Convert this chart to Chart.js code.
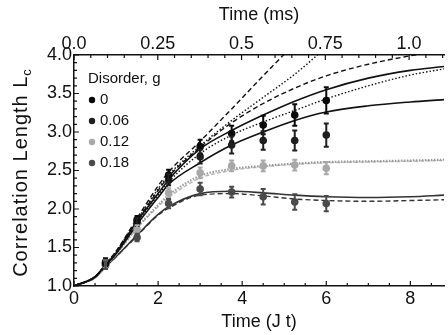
<!DOCTYPE html>
<html><head><meta charset="utf-8">
<script src="https://cdn.jsdelivr.net/npm/chart.js@4.4.1/dist/chart.umd.min.js"></script>
<style>html,body{margin:0;padding:0;background:#fff;}canvas{display:block;}</style>
</head><body>
<canvas id="c" width="448" height="335"></canvas>
<script>
// ---------- data ----------
const T_EXP = [0.75, 1.5, 2.25, 3.0, 3.75, 4.5, 5.25, 6.0];
const G0     = [1.31, 1.86, 2.44, 2.81, 2.98, 3.09, 3.22, 3.41];
const G0_ERR = [0.05, 0.05, 0.07, 0.09, 0.10, 0.12, 0.14, 0.17];
const G006     = [1.29, 1.83, 2.38, 2.68, 2.83, 2.89, 2.89, 2.96];
const G006_ERR = [0.05, 0.05, 0.07, 0.09, 0.11, 0.12, 0.13, 0.15];
const G012     = [1.28, 1.74, 2.21, 2.47, 2.56, 2.56, 2.57, 2.53];
const G012_ERR = [0.05, 0.05, 0.06, 0.07, 0.07, 0.07, 0.07, 0.08];
const G018     = [1.27, 1.63, 2.07, 2.26, 2.22, 2.16, 2.09, 2.07];
const G018_ERR = [0.05, 0.05, 0.06, 0.08, 0.07, 0.10, 0.10, 0.10];

const T_TH = [0, 0.5, 0.75, 1.0, 1.5, 2.0, 2.25, 3.0, 3.75, 4.5, 5.25, 6.0, 7.0, 8.0, 8.8];
const TH_A  = [1.0, 1.12, 1.28, 1.45, 1.88, 2.30, 2.48, 2.88, 3.30, 3.73, 4.15];
const TH_B  = [1.0, 1.12, 1.28, 1.45, 1.86, 2.26, 2.44, 2.82, 3.15, 3.45, 3.75, 4.10];
const TH_C  = [1.0, 1.12, 1.27, 1.44, 1.85, 2.24, 2.42, 2.80, 3.12, 3.37, 3.57, 3.73, 3.88, 3.99, 4.06];
const TH_S1 = [1.0, 1.12, 1.27, 1.43, 1.84, 2.20, 2.38, 2.78, 3.02, 3.22, 3.40, 3.55, 3.70, 3.80, 3.85];
const TH_D2 = [1.0, 1.12, 1.27, 1.43, 1.83, 2.18, 2.35, 2.72, 2.96, 3.13, 3.28, 3.43, 3.60, 3.74, 3.82];
const TH_S2 = [1.0, 1.12, 1.27, 1.42, 1.80, 2.15, 2.32, 2.60, 2.83, 3.00, 3.15, 3.26, 3.34, 3.39, 3.42];
const TH_G1 = [1.0, 1.12, 1.26, 1.41, 1.76, 2.05, 2.18, 2.43, 2.52, 2.56, 2.59, 2.61, 2.62, 2.63, 2.64];
const TH_G2 = [1.0, 1.12, 1.26, 1.41, 1.75, 2.03, 2.15, 2.40, 2.50, 2.55, 2.58, 2.60, 2.61, 2.62, 2.63];
const TH_K1 = [1.0, 1.11, 1.25, 1.38, 1.66, 1.93, 2.03, 2.20, 2.23, 2.21, 2.18, 2.16, 2.15, 2.16, 2.18];
const TH_K2 = [1.0, 1.11, 1.25, 1.38, 1.65, 1.92, 2.01, 2.18, 2.20, 2.17, 2.13, 2.11, 2.10, 2.11, 2.12];

const LEGEND_TITLE = 'Disorder, g';
const LEGEND_LABELS = ['0', '0.06', '0.12', '0.18'];
const X_MAX = 8.8;
const MS_PER_JT = 1 / 7.97;
const X_TICKS = [0, 2, 4, 6, 8];
const MS_TICKS = [0, 0.25, 0.5, 0.75, 1.0];
const MS_TICK_LABELS = ['0.0', '0.25', '0.5', '0.75', '1.0'];
const Y_TICKS = [1.0, 1.5, 2.0, 2.5, 3.0, 3.5, 4.0];

const COL = ['#0a0a0a', '#1e1e1e', '#a8a8a8', '#4a4a4a'];
const FONT = "'Liberation Sans', Arial, Helvetica, sans-serif";

// ---------- datasets ----------
const pts = (ys) => ys.map((y, i) => ({x: T_EXP[i], y}));
const curve = (ys) => ys.map((y, i) => ({x: T_TH[i], y}));
function pointSet(ys, errs, c) {
  return {type: 'line', data: pts(ys), errors: errs, showLine: false,
    pointRadius: 3.8, pointBackgroundColor: c, pointBorderColor: c, borderColor: c, pointBorderWidth: 0};
}
function lineSet(ys, c, dash, w) {
  return {type: 'line', data: curve(ys), borderColor: c, borderWidth: w || 1.4, borderDash: dash || [],
    pointRadius: 0, cubicInterpolationMode: 'monotone', fill: false};
}
const datasets = [
  pointSet(G0, G0_ERR, COL[0]),
  pointSet(G006, G006_ERR, COL[1]),
  pointSet(G012, G012_ERR, COL[2]),
  pointSet(G018, G018_ERR, COL[3]),
  lineSet(TH_A, '#111', [5, 3], 1.4),
  lineSet(TH_B, '#111', [1.5, 2], 1.4),
  lineSet(TH_C, '#111', [5, 3], 1.4),
  lineSet(TH_S1, '#111', [], 1.6),
  lineSet(TH_D2, '#111', [1.5, 2], 1.4),
  lineSet(TH_S2, '#111', [], 1.6),
  lineSet(TH_G1, '#9a9a9a', [1.5, 1.5], 2.2),
  lineSet(TH_G2, '#b5b5b5', [4, 2], 1.4),
  lineSet(TH_K1, '#333', [], 1.6),
  lineSet(TH_K2, '#333', [5, 3], 1.4),
];

// ---------- plugins ----------
const errorBars = {
  id: 'errorBars',
  afterDatasetsDraw(chart) {
    const ctx = chart.ctx, xs = chart.scales.x, ys = chart.scales.y;
    chart.data.datasets.forEach((ds) => {
      if (!ds.errors) return;
      ctx.save();
      ctx.strokeStyle = ds.borderColor; ctx.lineWidth = 2;
      ds.data.forEach((p, i) => {
        const e = ds.errors[i];
        const px = xs.getPixelForValue(p.x);
        const y1 = ys.getPixelForValue(p.y - e), y2 = ys.getPixelForValue(p.y + e);
        ctx.beginPath();
        ctx.moveTo(px, y1); ctx.lineTo(px, y2);
        ctx.moveTo(px - 2.5, y1); ctx.lineTo(px + 2.5, y1);
        ctx.moveTo(px - 2.5, y2); ctx.lineTo(px + 2.5, y2);
        ctx.stroke();
      });
      ctx.restore();
    });
  }
};

const inTicks = {
  id: 'inTicks',
  afterDraw(chart) {
    const ctx = chart.ctx, a = chart.chartArea;
    const xs = chart.scales.x, x2 = chart.scales.x2, ys = chart.scales.y;
    ctx.save();
    ctx.strokeStyle = '#111'; ctx.lineWidth = 1.2;
    ctx.beginPath();
    for (let k = 0; k <= X_MAX * 2 + 1e-9; k++) {
      const v = k / 2, px = xs.getPixelForValue(v), len = (k % 4 === 0) ? 5 : 3;
      ctx.moveTo(px, a.bottom); ctx.lineTo(px, a.bottom - len);
    }
    const msMax = X_MAX * MS_PER_JT;
    for (let k = 0; k * 0.05 <= msMax + 1e-9; k++) {
      const v = k * 0.05, px = x2.getPixelForValue(v), len = (k % 5 === 0) ? 5 : 3;
      ctx.moveTo(px, a.top); ctx.lineTo(px, a.top + len);
    }
    for (let k = 10; k <= 40; k++) {
      const v = k / 10, py = ys.getPixelForValue(v), len = (k % 5 === 0) ? 5 : 3;
      ctx.moveTo(a.left, py); ctx.lineTo(a.left + len, py);
    }
    ctx.stroke();

    // legend
    ctx.fillStyle = '#111';
    ctx.font = '15px ' + FONT;
    ctx.textBaseline = 'middle'; ctx.textAlign = 'left';
    ctx.fillText(LEGEND_TITLE, a.left + 14, 79);
    LEGEND_LABELS.forEach((t, i) => {
      const y = 100 + i * 21;
      ctx.fillStyle = COL[i];
      ctx.beginPath(); ctx.arc(a.left + 18, y, 3.2, 0, Math.PI * 2); ctx.fill();
      ctx.fillStyle = '#111';
      ctx.fillText(t, a.left + 26, y);
    });

    // y title with subscript
    ctx.save();
    const cy = (a.top + a.bottom) / 2 + 2;
    ctx.translate(20, cy);
    ctx.rotate(-Math.PI / 2);
    const main = 'Correlation Length L';
    try { ctx.letterSpacing = '1px'; } catch (e) {}
    ctx.font = '20px ' + FONT;
    const w1 = ctx.measureText(main).width;
    ctx.font = '13px ' + FONT;
    const w2 = ctx.measureText('c').width;
    const x0 = -(w1 + w2) / 2;
    ctx.fillStyle = '#111';
    ctx.textBaseline = 'alphabetic';
    ctx.font = '20px ' + FONT;
    ctx.fillText(main, x0, 7);
    ctx.font = '13px ' + FONT;
    ctx.fillText('c', x0 + w1, 11);
    ctx.restore();
    ctx.restore();
  }
};

// ---------- chart ----------
const noGrid = {display: false, drawTicks: false, tickLength: 0};
new Chart(document.getElementById('c'), {
  data: {datasets},
  options: {
    responsive: false, animation: false, devicePixelRatio: 1,
    layout: {padding: {left: 0, right: 1, top: 0, bottom: 0}},
    plugins: {legend: {display: false}, tooltip: {enabled: false}},
    scales: {
      x: {
        type: 'linear', position: 'bottom', min: 0, max: X_MAX,
        afterBuildTicks: (s) => { s.ticks = X_TICKS.map(v => ({value: v})); },
        afterFit: (s) => { s.height = 49; },
        ticks: {font: {size: 18, family: FONT}, color: '#111', padding: 2, maxRotation: 0,
          callback: (v) => String(v)},
        grid: noGrid,
        border: {display: true, color: '#111', width: 1.5},
        title: {display: true, text: 'Time (J t)', font: {size: 18, family: FONT}, color: '#111', padding: {top: 0, bottom: 2}}
      },
      x2: {
        type: 'linear', axis: 'x', position: 'top', min: 0, max: X_MAX * MS_PER_JT,
        afterBuildTicks: (s) => { s.ticks = MS_TICKS.map(v => ({value: v})); },
        afterFit: (s) => { s.height = 55; },
        ticks: {font: {size: 18, family: FONT}, color: '#111', padding: 0, maxRotation: 0,
          callback: (v) => MS_TICK_LABELS[MS_TICKS.indexOf(v)]},
        grid: noGrid,
        border: {display: true, color: '#111', width: 1.5},
        title: {display: true, text: 'Time (ms)', font: {size: 18, family: FONT}, color: '#111', padding: {top: 4, bottom: 0}}
      },
      y: {
        type: 'linear', position: 'left', min: 1, max: 4,
        afterBuildTicks: (s) => { s.ticks = Y_TICKS.map(v => ({value: v})); },
        afterFit: (s) => { s.width = 74; },
        ticks: {font: {size: 18, family: FONT}, color: '#111', padding: 2,
          callback: (v) => v.toFixed(1)},
        grid: noGrid,
        border: {display: true, color: '#111', width: 1.5}
      }
    }
  },
  plugins: [errorBars, inTicks]
});
</script>
</body></html>
